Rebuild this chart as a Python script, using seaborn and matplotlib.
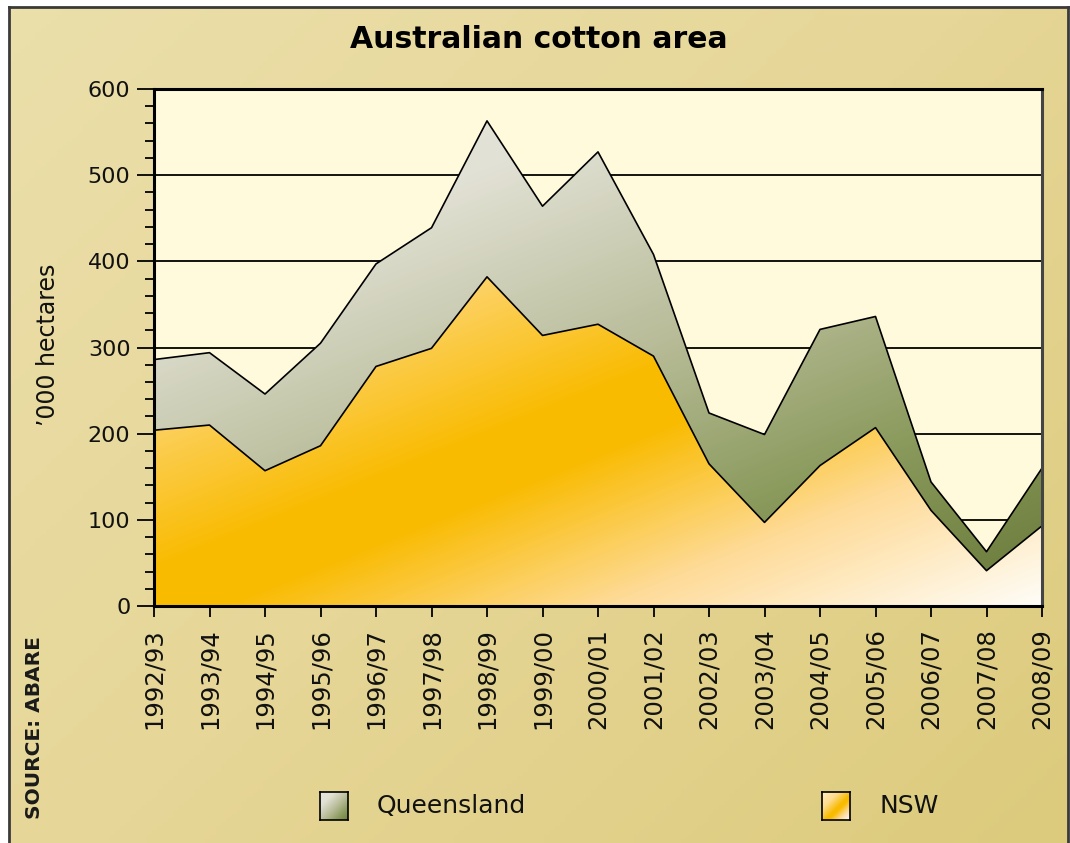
import numpy as np
import pandas as pd
import matplotlib
matplotlib.use('Agg')
import matplotlib.pyplot as plt
from matplotlib.colors import LinearSegmentedColormap
from matplotlib.ticker import MultipleLocator
import seaborn as sns

# Australian cotton area ('000 hectares)
seasons = ['1992/93', '1993/94', '1994/95', '1995/96', '1996/97', '1997/98',
           '1998/99', '1999/00', '2000/01', '2001/02', '2002/03', '2003/04',
           '2004/05', '2005/06', '2006/07', '2007/08', '2008/09']
nsw = [204, 210, 157, 186, 278, 299, 382, 314, 327, 290, 165, 97, 163, 207, 111, 41, 93]
total = [286, 294, 246, 305, 397, 439, 563, 464, 527, 408, 224, 199, 321, 336, 144, 63, 160]
queensland = [t - n for t, n in zip(total, nsw)]

df = pd.DataFrame({'season': seasons, 'NSW': nsw, 'Queensland': queensland})
df['idx'] = range(len(df))
df['total'] = df['NSW'] + df['Queensland']

sns.set_style('ticks')
plt.rcParams['font.family'] = ['DejaVu Sans']

W, H = 1070, 843
fig = plt.figure(figsize=(W / 100, H / 100), dpi=100)
fig.patch.set_facecolor('white')

# beige panel behind everything
bg = fig.add_axes([9 / W, 0, (1068 - 9) / W, (843 - 7) / H])
bg.set_zorder(-5)
gy, gx = np.mgrid[0:1:200j, 0:1:200j]
bg_cmap = LinearSegmentedColormap.from_list('bg', ['#ebdfaa', '#e6d697', '#dccb7c'])
bg.imshow(0.55 * gx + 0.45 * gy, cmap=bg_cmap, aspect='auto', extent=(0, 1, 0, 1), origin='upper')
bg.set_xticks([])
bg.set_yticks([])
for s in ['top', 'left', 'right']:
    bg.spines[s].set_color('#3a3a3a')
    bg.spines[s].set_linewidth(2)
bg.spines['bottom'].set_visible(False)

# main plot area
x0, x1, y0, y1 = 154, 1042, 89, 606
ax = fig.add_axes([x0 / W, 1 - y1 / H, (x1 - x0) / W, (y1 - y0) / H])
ax.set_facecolor('#fffadb')
n = len(df)
ax.set_xlim(0, n - 1)
ax.set_ylim(0, 600)

for yv in range(100, 600, 100):
    ax.axhline(yv, color='black', lw=1.3, zorder=0.5)

# gradient images in pixel space
pw, ph = x1 - x0, y1 - y0
py, px = np.mgrid[y0:y1, x0:x1]
p = 0.374 * px + 0.927 * py

nsw_cmap = LinearSegmentedColormap.from_list('nsw', [
    (0.0, '#fff0c0'), (0.30, '#fedb8e'), (0.55, '#f9bb00'), (0.62, '#f9bb00'),
    (0.80, '#fedb98'), (1.0, '#fffdf8')])
qld_cmap = LinearSegmentedColormap.from_list('qld', [
    (0.0, '#e8e7dd'), (0.25, '#e2e1d5'), (0.55, '#b8bc98'), (0.8, '#8a9a5c'), (1.0, '#6f8040')])

nsw_norm = np.clip((p - 140) / (951 - 140), 0, 1)
qld_norm = np.clip((p - 150) / (900 - 150), 0, 1)

poly_n = ax.fill_between(df['idx'], 0, df['NSW'], facecolor='none', edgecolor='none')
poly_q = ax.fill_between(df['idx'], df['NSW'], df['total'], facecolor='none', edgecolor='none')

im_n = ax.imshow(nsw_norm, cmap=nsw_cmap, vmin=0, vmax=1, aspect='auto',
                 extent=(0, n - 1, 0, 600), origin='upper', zorder=1)
im_n.set_clip_path(poly_n.get_paths()[0], transform=ax.transData)
im_q = ax.imshow(qld_norm, cmap=qld_cmap, vmin=0, vmax=1, aspect='auto',
                 extent=(0, n - 1, 0, 600), origin='upper', zorder=1)
im_q.set_clip_path(poly_q.get_paths()[0], transform=ax.transData)

sns.lineplot(data=df, x='idx', y='total', color='black', lw=1.2, ax=ax, zorder=3)
sns.lineplot(data=df, x='idx', y='NSW', color='black', lw=1.2, ax=ax, zorder=3)
ax.set_xlim(0, n - 1)
ax.set_ylim(0, 600)

# axes styling
for s in ['top', 'left', 'bottom']:
    ax.spines[s].set_color('black')
    ax.spines[s].set_linewidth(2.2)
ax.spines['right'].set_color('#444444')
ax.spines['right'].set_linewidth(2.2)
for s in ax.spines.values():
    s.set_zorder(4)

ax.set_yticks(range(0, 601, 100))
ax.yaxis.set_minor_locator(MultipleLocator(20))
ax.tick_params(axis='y', which='major', length=12, width=1.3, pad=5, labelsize=16, color='black', labelcolor='#111111')
ax.tick_params(axis='y', which='minor', length=6.5, width=1.3, color='black')
ax.set_xticks(df['idx'])
ax.set_xticklabels(df['season'], rotation=90)
ax.tick_params(axis='x', length=8, width=1.3, pad=8, labelsize=17.5, color='black', labelcolor='#111111')

ax.set_xlabel('')
ax.set_ylabel('\u2019000 hectares', fontsize=17, color='#111111')
ax.yaxis.set_label_coords((60 - x0) / pw, 0.505)

fig.text(539 / W, 1 - 40 / H, 'Australian cotton area', ha='center', va='center',
         fontsize=21.5, fontweight='black', color='black')
fig.text(35 / W, 1 - 728 / H, 'SOURCE: ABARE', rotation=90, ha='center', va='center',
         fontsize=14.5, fontweight='bold', color='#1a1a1a')

# legend swatches with gradients
sw = np.linspace(0, 1, 60)
sw_img = np.add.outer(sw, sw) / 2
for (sx, cmap, label, tx) in [(320, qld_cmap, 'Queensland', 377), (822, nsw_cmap, 'NSW', 879)]:
    sax = fig.add_axes([sx / W, 1 - 820 / H, 28 / W, 28 / H])
    sax.imshow(sw_img, cmap=cmap, aspect='auto')
    sax.set_xticks([])
    sax.set_yticks([])
    for s in sax.spines.values():
        s.set_color('black')
        s.set_linewidth(1.2)
    fig.text(tx / W, 1 - 806 / H, label, ha='left', va='center', fontsize=18,
             family=['Liberation Sans Narrow', 'DejaVu Sans'], color='#111111')

fig.savefig('out.png', dpi=100)
